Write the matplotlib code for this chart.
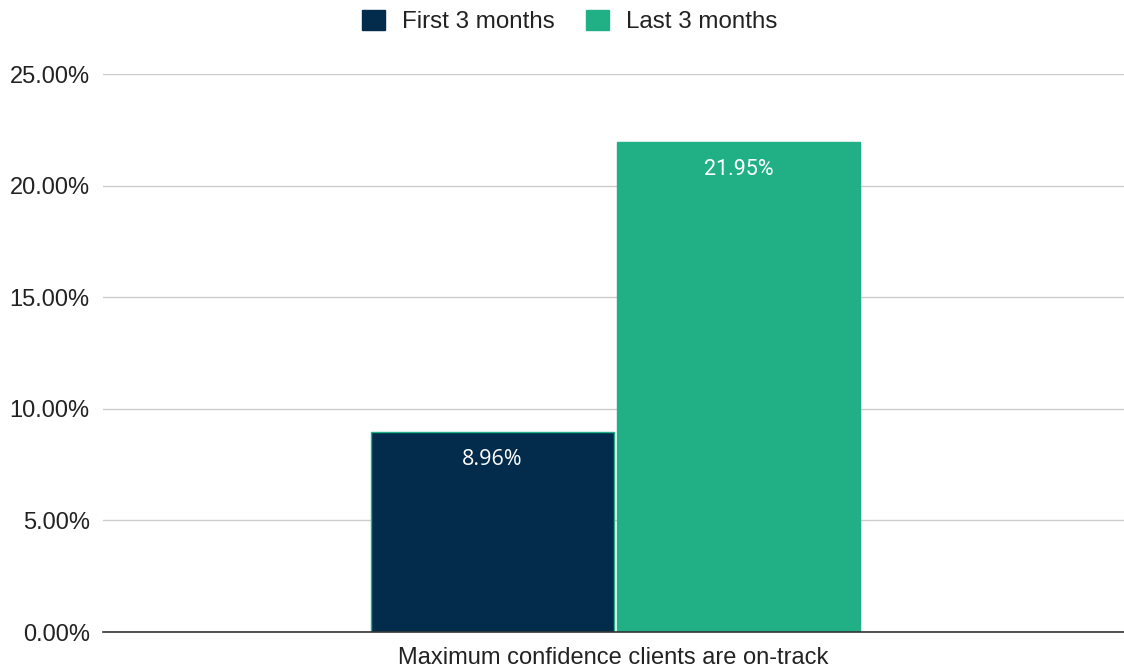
import numpy as np
import matplotlib.pyplot as plt

category = "Maximum confidence clients are on-track"
series = ["First 3 months", "Last 3 months"]
values = [8.96, 21.95]
colors = ["#022b4c", "#21b085"]
label_fonts = ["Open Sans", "Roboto"]
yticks = [0, 5, 10, 15, 20, 25]

plt.rcParams['font.family'] = ['Liberation Sans', 'DejaVu Sans']

fig = plt.figure(figsize=(11.24, 6.69), dpi=100)
ax = fig.add_axes([0.0916, 0.0553, 0.9084, 0.8337])

width = 0.238
offsets = [-0.1185, 0.1224]
for name, v, c, off, fnt in zip(series, values, colors, offsets, label_fonts):
    ax.bar(off, v, width=width, color=c, edgecolor="#21b085", linewidth=1.0,
           label=name, zorder=3)
    ax.annotate(f"{v:.2f}%", xy=(off, v), xytext=(0, -19.5), textcoords="offset points",
                ha="center", va="center", color="white", fontsize=15.5,
                family=[fnt, 'DejaVu Sans'], zorder=4)

ax.set_xlim(-0.5, 0.5)
ax.set_ylim(0, 25)
ax.set_yticks(yticks)
ax.set_yticklabels([f"{t:.2f}%" for t in yticks], fontsize=17, color="#222222")
ax.set_xticks([])
ax.set_xlabel(category, fontsize=17, color="#222222", labelpad=11)
ax.tick_params(axis="y", length=0, pad=9.5)
ax.yaxis.grid(True, color="#cccccc", linewidth=1.0, zorder=0)
for s in ["top", "right", "left"]:
    ax.spines[s].set_visible(False)
ax.spines["bottom"].set_color("#333333")
ax.spines["bottom"].set_linewidth(1.2)
ax.spines["bottom"].set_zorder(5)

handles, labels = ax.get_legend_handles_labels()
leg = fig.legend(handles, labels, loc="center", bbox_to_anchor=(570 / 1124, 0.968), ncol=2,
                 frameon=False, fontsize=17.4, handlelength=0.95, handleheight=0.95,
                 handletextpad=0.7, columnspacing=1.3, labelcolor="#222222")
# legend squares without the bar outline
for p in leg.get_patches():
    p.set_edgecolor(p.get_facecolor())

fig.savefig("out.png", dpi=100)
